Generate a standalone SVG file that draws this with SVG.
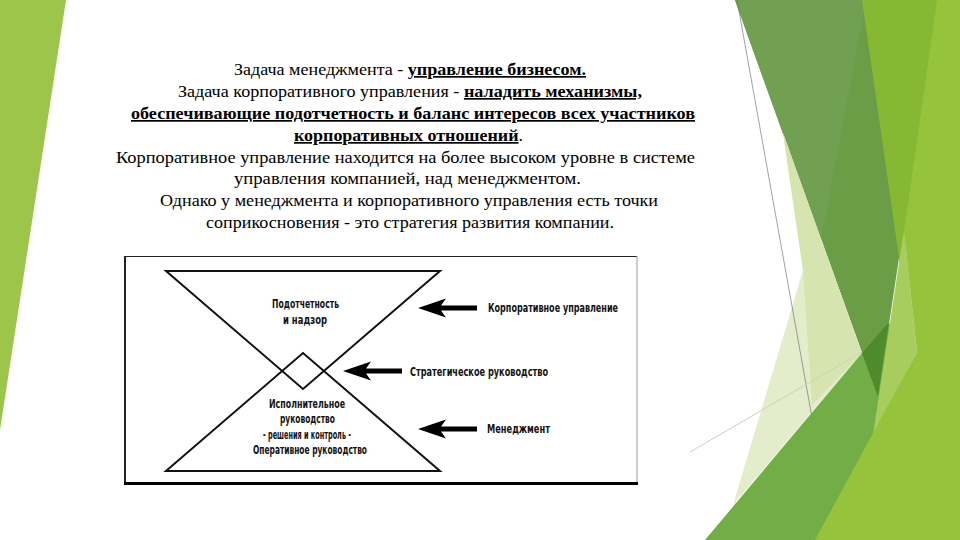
<svg xmlns="http://www.w3.org/2000/svg" width="960" height="540" viewBox="0 0 960 540">
<style>
.t{font-size:17px;fill:#000}
.b{font-weight:bold;text-decoration:underline}
.d{font-size:13px;fill:#111;font-weight:600}
.hg{fill:none;stroke:#111;stroke-width:2;stroke-linejoin:miter}
</style>
<defs>
<path id="arr" d="M0,0 L28,-9.5 L23,-2.5 L59,-2.5 L59,2.5 L23,2.5 L28,9.5 Z" fill="#000"/>
</defs>
<rect width="960" height="540" fill="#fff"/>
<g id="decor">
<polygon points="0,0 66,0 0,430" fill="#9cc54a"/>
<polygon points="735,0 938,0 878,397" fill="#6b9c46"/>
<polygon points="735,0 866,0 821,240" fill="#71a053"/>
<polygon points="783,133 803,270 733,505 862,353" fill="#e3edcc"/>
<polygon points="783,133 803,270 812,405 862,353" fill="#d6e5b0"/>
<line x1="737" y1="0" x2="834" y2="540" stroke="#6d6d6d" stroke-width="0.8" opacity="0.8"/>
<line x1="690" y1="452" x2="862" y2="352" stroke="#c8d4b8" stroke-width="1"/>
<polygon points="705,540 862,353 895,318 900,540" fill="#72ad48"/>
<polygon points="862,353 889,322 878,397" fill="#4f8b2c"/>
<polygon points="862,0 940,0 900,265" fill="#86b833"/>
<polygon points="904,230 917,352 873,435" fill="#a8cd5e"/>
<polygon points="937,0 960,0 960,540 815,540 917,352 904,232" fill="#95c43c"/>
</g>
<g id="text" font-family="Liberation Serif, DejaVu Serif, Times New Roman, serif">
<text class="t" x="234" y="75" textLength="352" lengthAdjust="spacingAndGlyphs">Задача менеджмента - <tspan class="b">управление бизнесом.</tspan></text>
<text class="t" x="178" y="97" textLength="464" lengthAdjust="spacingAndGlyphs">Задача корпоративного управления - <tspan class="b">наладить механизмы,</tspan></text>
<text class="t b" x="131" y="119" textLength="564" lengthAdjust="spacingAndGlyphs">обеспечивающие подотчетность и баланс интересов всех участников</text>
<text class="t" x="294" y="141" textLength="229" lengthAdjust="spacingAndGlyphs"><tspan class="b">корпоративных отношений</tspan>.</text>
<text class="t" x="116" y="163" textLength="579" lengthAdjust="spacingAndGlyphs">Корпоративное управление находится на более высоком уровне в системе</text>
<text class="t" x="234" y="184" textLength="347" lengthAdjust="spacingAndGlyphs">управления компанией, над менеджментом.</text>
<text class="t" x="160" y="206" textLength="498" lengthAdjust="spacingAndGlyphs">Однако у менеджмента и корпоративного управления есть точки</text>
<text class="t" x="206" y="228" textLength="408" lengthAdjust="spacingAndGlyphs">соприкосновения - это стратегия развития компании.</text>
</g>
<g id="frame">
<line x1="125" y1="256" x2="125" y2="485" stroke="#222" stroke-width="2"/>
<line x1="124" y1="256.5" x2="637" y2="256.5" stroke="#222" stroke-width="1.2"/>
<line x1="637" y1="256" x2="637" y2="484" stroke="#999" stroke-width="1"/>
<line x1="124" y1="483.5" x2="638" y2="483.5" stroke="#000" stroke-width="3"/>
</g>
<g id="diagram" font-family="Liberation Sans Narrow, DejaVu Sans Condensed, Arial Narrow, Liberation Sans, sans-serif">
<g id="node-top">
<polygon class="hg" points="166,271 440,271 303,389"/>
<text class="d" x="272" y="308" textLength="67" lengthAdjust="spacingAndGlyphs">Подотчетность</text>
<text class="d" x="283" y="324" textLength="44" lengthAdjust="spacingAndGlyphs">и надзор</text>
</g>
<g id="node-bottom">
<polygon class="hg" points="166,471 440,471 303,353"/>
<text class="d" x="269" y="408" textLength="76" lengthAdjust="spacingAndGlyphs">Исполнительное</text>
<text class="d" x="280" y="423" textLength="55" lengthAdjust="spacingAndGlyphs">руководство</text>
<text class="d" x="263" y="439" textLength="88" lengthAdjust="spacingAndGlyphs">- решения и контроль -</text>
<text class="d" x="253" y="454" textLength="114" lengthAdjust="spacingAndGlyphs">Оперативное руководство</text>
</g>
<g id="label-corp">
<text class="d" x="488" y="312" textLength="130" lengthAdjust="spacingAndGlyphs">Корпоративное управление</text>
</g>
<g id="label-strat">
<text class="d" x="410" y="376" textLength="138" lengthAdjust="spacingAndGlyphs">Стратегическое руководство</text>
</g>
<g id="label-mgmt">
<text class="d" x="487" y="433" textLength="63" lengthAdjust="spacingAndGlyphs">Менеджмент</text>
</g>
</g>
<g id="connectors">
<use href="#arr" x="418" y="308"/>
<use href="#arr" x="343" y="371"/>
<use href="#arr" x="418" y="429"/>
</g>
</svg>
